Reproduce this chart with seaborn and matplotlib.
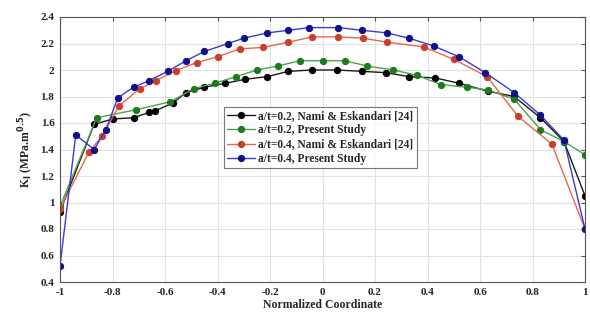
import pandas as pd
import matplotlib
matplotlib.use('Agg')
import matplotlib.pyplot as plt
import seaborn as sns
from matplotlib.ticker import FuncFormatter

# Data
x_02_nami = [-1, -0.87, -0.80, -0.72, -0.66, -0.64, -0.57, -0.52, -0.45, -0.37, -0.295, -0.21,
             -0.13, -0.04, 0.055, 0.15, 0.24, 0.33, 0.43, 0.52, 0.63, 0.73, 0.83, 0.92, 1.0]
y_02_nami = [0.93, 1.59, 1.63, 1.64, 1.68, 1.69, 1.75, 1.83, 1.87, 1.90, 1.93, 1.95,
             1.99, 2.00, 2.00, 1.99, 1.98, 1.95, 1.94, 1.90, 1.84, 1.80, 1.64, 1.46, 1.05]

x_02_present = [-1, -0.86, -0.71, -0.58, -0.49, -0.41, -0.33, -0.25, -0.17, -0.086, 0.0, 0.086,
                0.17, 0.27, 0.36, 0.45, 0.55, 0.63, 0.73, 0.83, 0.92, 1.0]
y_02_present = [0.97, 1.64, 1.70, 1.76, 1.86, 1.90, 1.95, 2.00, 2.03, 2.07, 2.07, 2.07,
                2.03, 2.00, 1.96, 1.89, 1.87, 1.85, 1.78, 1.55, 1.46, 1.36]

x_04_nami = [-1, -0.89, -0.84, -0.775, -0.695, -0.634, -0.56, -0.48, -0.40, -0.314, -0.227,
             -0.13, -0.04, 0.06, 0.154, 0.245, 0.385, 0.50, 0.627, 0.745, 0.874, 1.0]
y_04_nami = [0.95, 1.38, 1.50, 1.73, 1.86, 1.92, 1.995, 2.055, 2.10, 2.16, 2.17,
             2.21, 2.25, 2.25, 2.24, 2.21, 2.175, 2.08, 1.95, 1.65, 1.44, 0.80]

x_04_present = [-1, -0.94, -0.87, -0.825, -0.78, -0.72, -0.66, -0.59, -0.52, -0.45, -0.36, -0.30,
                -0.21, -0.13, -0.05, 0.06, 0.15, 0.245, 0.33, 0.425, 0.52, 0.62, 0.73, 0.83,
                0.92, 1.0]
y_04_present = [0.52, 1.51, 1.40, 1.55, 1.79, 1.87, 1.92, 1.99, 2.07, 2.14, 2.20, 2.24,
                2.28, 2.30, 2.32, 2.32, 2.30, 2.28, 2.24, 2.18, 2.10, 1.98, 1.83, 1.66,
                1.47, 0.80]

labels = ['a/t=0.2, Nami & Eskandari [24]', 'a/t=0.2, Present Study',
          'a/t=0.4, Nami & Eskandari [24]', 'a/t=0.4, Present Study']
line_colors = ['#1a1a1a', '#4aa64a', '#e8664f', '#3a3ad8']
marker_colors = ['#000000', '#1f7a1f', '#c8402a', '#10108a']

series = [(x_02_nami, y_02_nami), (x_02_present, y_02_present),
          (x_04_nami, y_04_nami), (x_04_present, y_04_present)]

sns.set_style('white')
plt.rcParams['font.family'] = ['Liberation Serif', 'DejaVu Serif']
plt.rcParams['font.weight'] = 'bold'

fig = plt.figure(figsize=(5.9, 3.15), dpi=100)
ax = fig.add_axes([60 / 590, 1 - 282 / 315, 525 / 590, 265 / 315])

for (xs, ys), lab, lc, mc in zip(series, labels, line_colors, marker_colors):
    df = pd.DataFrame({'x': xs, 'y': ys})
    sns.lineplot(data=df, x='x', y='y', sort=False, ax=ax, color=lc, linewidth=1.0,
                 marker='o', markersize=4.5, markerfacecolor=mc, markeredgecolor=mc,
                 label=lab)

ax.set_xlim(-1, 1)
ax.set_ylim(0.4, 2.4)
ax.set_xticks([-1, -0.8, -0.6, -0.4, -0.2, 0, 0.2, 0.4, 0.6, 0.8, 1])
ax.set_yticks([0.4, 0.6, 0.8, 1.0, 1.2, 1.4, 1.6, 1.8, 2.0, 2.2, 2.4])
fmt = FuncFormatter(lambda v, p: ('%g' % round(v, 2)))
ax.xaxis.set_major_formatter(fmt)
ax.yaxis.set_major_formatter(fmt)
ax.grid(True, color='#e2e2e2', linewidth=0.8)
ax.tick_params(direction='in', length=3, top=True, right=True, labelsize=8,
               color='#555555', pad=4)
for lbl in ax.get_xticklabels() + ax.get_yticklabels():
    lbl.set_fontweight('bold')
for sp in ax.spines.values():
    sp.set_color('#555555')
    sp.set_linewidth(0.8)

ax.set_xlabel('Normalized Coordinate', fontsize=8.5, fontweight='bold', labelpad=2)
ax.set_ylabel(r'K$_{\mathbf{I}}$ (MPa.m$^{\mathbf{0.5}}$)', fontsize=8.5, fontweight='bold', labelpad=3)

leg = ax.legend(loc='upper left', bbox_to_anchor=(0.312, 0.662), fontsize=8.3,
                frameon=True, fancybox=False, borderpad=0.3, labelspacing=0.2,
                handlelength=2.4, handletextpad=0.3, borderaxespad=0)
leg.get_frame().set_edgecolor('#555555')
leg.get_frame().set_linewidth(0.8)
for t in leg.get_texts():
    t.set_fontweight('bold')

fig.savefig('out.png', dpi=100)
